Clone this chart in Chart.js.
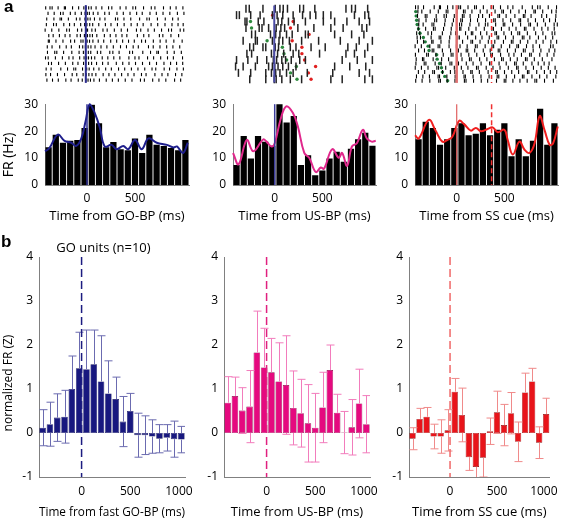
<!DOCTYPE html>
<html>
<head>
<meta charset="utf-8">
<script src="https://cdn.jsdelivr.net/npm/chart.js@4.4.1/dist/chart.umd.min.js"></script>
<style>
  body { margin: 0; background: #fff; }
  #fig { position: relative; width: 563px; height: 520px; overflow: hidden; }
  #fig canvas { position: absolute; }
  .lbl { position: absolute; color: #000; white-space: nowrap; }
  .panel { font: bold 17px "Liberation Sans", Arial, sans-serif; line-height: 17px; }
</style>
</head>
<body>
<div id="fig">
  <canvas id="r1" width="190" height="88" style="left:0;top:0"></canvas>
  <canvas id="r2" width="190" height="88" style="left:190px;top:0"></canvas>
  <canvas id="r3" width="188" height="88" style="left:375px;top:0"></canvas>
  <canvas id="h1" width="190" height="134" style="left:0;top:90px"></canvas>
  <canvas id="h2" width="190" height="134" style="left:190px;top:90px"></canvas>
  <canvas id="h3" width="188" height="134" style="left:375px;top:90px"></canvas>
  <canvas id="b1" width="206" height="285" style="left:0;top:235px"></canvas>
  <canvas id="b2" width="200" height="285" style="left:190px;top:235px"></canvas>
  <canvas id="b3" width="190" height="285" style="left:375px;top:235px"></canvas>
  <div class="lbl panel" style="left:4px;top:-2px">a</div>
  <div class="lbl panel" style="left:1px;top:233px">b</div>
  <div class="lbl" style="left:0;top:238px;width:207px;text-align:center;font:13px 'Open Sans', sans-serif">GO units (n=10)</div>
</div>
<script>
// 75 ms bins
const binCenters = [-400, -325, -250, -175, -100, -25, 50, 125, 200, 275, 350, 425, 500, 575, 650, 725, 800, 875, 950, 1025];
const aTicks = [0, 500];
const bTicks = [0, 500, 1000];

// panel a: firing rate histograms (Hz)
const goRate = [14, 18.7, 15.7, 16.4, 16.7, 21.2, 29.8, 22.9, 14, 16, 13.3, 12.9, 17.3, 11.9, 18.7, 14.9, 14.5, 13.7, 12.9, 16.7];
const usRate = [7.4, 18.2, 9.8, 18.2, 16.1, 14.6, 30.4, 23.2, 25.6, 7.4, 11, 3.6, 5.4, 9.8, 12.3, 8.6, 13.5, 17, 19.4, 14.6];
const ssRate = [17, 23.5, 21.2, 14.9, 17, 21.2, 22.9, 18.5, 19, 22.9, 18.5, 20.5, 22.9, 10.7, 17, 10.7, 16.4, 28.3, 14.9, 22.9];

// smoothed spike density
const goSmoothT = [-437, -392, -304, -234, -164, -112, -59, -14, 28, 80, 133, 185, 255, 308, 378, 430, 500, 570, 640, 727, 832, 902, 937, 1000, 1050];
const goSmoothY = [12.5, 13.7, 18.7, 16.4, 15.7, 14.5, 17.3, 23.8, 30, 26.8, 21.4, 14.3, 14.9, 13.3, 14.5, 13.3, 16.7, 13.3, 17.3, 15.7, 14.9, 13.9, 14.3, 11.9, 15.7];
const usSmoothT = [-437, -379, -293, -224, -121, -86, -34, 0, 62, 121, 190, 241, 310, 362, 431, 483, 517, 603, 672, 707, 759, 810, 862, 924, 966, 1017, 1060];
const usSmoothY = [11.9, 7.7, 16.7, 12.5, 16.9, 16.1, 14.3, 15.5, 24.4, 29.2, 26.8, 22, 11.9, 10.1, 4.8, 6.5, 6, 13.3, 10.1, 11.9, 7.1, 14.3, 15.5, 20.5, 17.3, 16.1, 16.4];
const ssSmoothT = [-437, -398, -292, -222, -151, -99, -46, 25, 77, 148, 201, 254, 324, 377, 430, 500, 535, 588, 658, 711, 764, 817, 870, 923, 975, 1011, 1060];
const ssSmoothY = [18.5, 17.3, 24.2, 20.2, 16.1, 16.7, 17.9, 23.8, 22.6, 20.2, 21.2, 20, 20.8, 21.4, 19.6, 20.5, 16.7, 11.3, 16.1, 13.1, 11.9, 15.5, 25.6, 20.2, 14.9, 15.5, 21.7];

// panel b: normalized FR (Z) with error
const goZ = [0.12, 0.2, 0.35, 0.37, 1.0, 1.47, 1.45, 1.56, 1.17, 0.9, 0.77, 0.26, 0.5, -0.05, -0.05, -0.08, -0.13, -0.11, -0.14, -0.15];
const goErr = [0.41, 0.5, 0.54, 0.6, 0.75, 0.82, 0.89, 0.78, 1.04, 0.74, 0.5, 0.57, 0.4, 0.5, 0.44, 0.38, 0.32, 0.3, 0.41, 0.3];
const usZ = [0.69, 0.84, 0.51, 0.6, 1.83, 1.49, 1.38, 1.17, 1.09, 0.57, 0.45, 0.22, 0.12, 0.58, 1.43, 0.46, 0.01, 0.13, 0.67, 0.2];
const usErr = [0.59, 0.43, 0.52, 0.82, 0.94, 0.89, 0.77, 0.88, 1.12, 0.84, 0.77, 0.88, 0.78, 0.8, 0.57, 0.42, 0.48, 0.63, 0.78, 0.65];
const ssZ = [-0.13, 0.32, 0.37, -0.08, -0.08, 0.06, 0.94, 0.41, -0.55, -0.77, -0.56, 0.04, 0.47, 0.18, 0.45, -0.2, 0.92, 1.17, -0.22, 0.43];
const ssErr = [0.25, 0.24, 0.21, 0.28, 0.38, 0.47, 0.3, 0.61, 0.3, 0.32, 0.44, 0.3, 0.48, 0.47, 0.47, 0.45, 0.44, 0.3, 0.36, 0.36];

// rasters: spike times (ms) per trial
const goTrials = [
  [-430, -384, -361, -297, -230, -218, -142, -77, -21, 3, 31, 58, 110, 172, 244, 279, 368, 431, 505, 534, 619, 702, 741, 833, 906, 968, 1041],
  [-405, -339, -271, -243, -166, -114, -48, -8, 16, 38, 80, 130, 203, 251, 334, 402, 474, 545, 605, 688, 756, 828, 901, 982, 1052],
  [-419, -342, -276, -260, -187, -101, -63, -9, 22, 47, 93, 151, 205, 318, 342, 409, 482, 577, 655, 681, 768, 852, 931, 990],
  [-423, -346, -316, -236, -174, -123, -55, -13, 12, 42, 74, 139, 210, 270, 339, 411, 486, 552, 615, 700, 771, 849, 924, 989, 1044],
  [-436, -365, -289, -205, -176, -89, -44, 6, 19, 65, 102, 184, 229, 306, 380, 447, 543, 589, 667, 735, 812, 887, 919, 1012, 1050],
  [-397, -350, -283, -222, -170, -94, -58, -15, 18, 44, 71, 118, 199, 262, 323, 388, 440, 553, 621, 676, 789, 826, 913, 995],
  [-402, -391, -320, -245, -163, -120, -52, -30, 14, 40, 76, 133, 192, 267, 331, 395, 458, 520, 598, 640, 724, 797, 861, 944, 1033],
  [-413, -362, -280, -210, -155, -68, -33, -5, 25, 55, 99, 163, 226, 295, 372, 436, 508, 563, 672, 723, 795, 867, 934, 1007],
  [-411, -333, -311, -238, -150, -72, -26, -4, 27, 53, 124, 160, 257, 290, 357, 470, 501, 611, 694, 762, 779, 873, 948, 1024],
  [-432, -404, -326, -251, -181, -137, -66, -19, 9, 29, 61, 96, 176, 236, 300, 365, 462, 527, 570, 662, 727, 803, 876, 939, 1037],
  [-400, -368, -292, -219, -140, -84, -24, 0, 30, 62, 115, 180, 239, 327, 396, 463, 533, 608, 684, 758, 838, 909, 973, 1039],
  [-425, -372, -268, -196, -129, -108, -35, 10, 36, 85, 141, 213, 274, 351, 417, 489, 559, 632, 710, 750, 840, 898, 977, 1046],
  [-428, -378, -304, -228, -146, -97, -29, 4, 33, 67, 108, 186, 248, 312, 384, 452, 517, 597, 646, 741, 817, 880, 962, 1030],
  [-417, -357, -295, -214, -158, -81, -38, 1, 24, 50, 87, 146, 219, 285, 349, 423, 495, 586, 628, 717, 784, 858, 952, 1017]
];
const usTrials = [
  [-300, -265, -120, 10, 60, 95, 140, 270, 310, 430, 760, 820, 860, 990],
  [-400, -370, -250, -150, -20, 30, 90, 200, 300, 380, 440, 520, 600, 850, 960, 1000],
  [-310, -290, -170, -110, 40, 80, 150, 210, 330, 520, 640, 770, 900, 1010],
  [-300, -160, -130, -60, 20, 70, 110, 250, 420, 600, 730, 930, 980],
  [-240, -200, -40, 15, 60, 130, 190, 330, 360, 640, 820, 950],
  [-330, -200, -180, -20, 50, 90, 160, 290, 470, 700, 900, 1040],
  [-260, -220, -120, -90, 10, 45, 170, 230, 390, 540, 780, 870, 990],
  [-290, -240, -30, 0, 35, 100, 200, 260, 480, 760, 850, 960],
  [-400, -280, -180, -80, -10, 25, 80, 120, 180, 270, 330, 720, 880, 1040],
  [-410, -330, -200, -60, -20, 5, 40, 90, 150, 230, 640, 800, 970],
  [-380, -250, -90, -30, 15, 60, 130, 200, 350, 620, 900, 1010],
  [-260, -90, 0, 20, 80, 170, 290, 600, 720, 960, 1040]
];
const usGreenRow = [3, 4, 6, 7, 8, 9, 10, 11, 12];
const usGreenT = [-252, -241, -76, 86, 103, 131, 234, 172, 241];
const usRedRow = [2, 3, 4, 5, 6, 7, 8, 9, 10, 11, 12];
const usRedT = [-17, 200, 172, 369, 190, 293, 293, 321, 438, 362, 390];

const ssTrials = [
  [-432, -405, -348, -236, -181, -170, -96, -40, 22, 41, 119, 188, 207, 280, 362, 385, 460, 537, 590, 688, 794, 850, 876, 961, 1048],
  [-407, -366, -278, -193, -110, -92, 4, 71, 88, 160, 247, 319, 403, 474, 491, 566, 654, 722, 811, 826, 903, 997, 1044],
  [-411, -330, -312, -215, -132, -108, -25, 60, 77, 141, 230, 272, 344, 433, 450, 519, 611, 700, 716, 781, 893, 944, 1041],
  [-396, -322, -231, -210, -121, -34, 43, 60, 145, 219, 303, 389, 405, 486, 567, 655, 671, 749, 827, 913, 975, 1037],
  [-398, -352, -259, -240, -126, -47, 30, 52, 139, 233, 301, 327, 409, 489, 505, 587, 671, 758, 775, 847, 931, 1023, 1056],
  [-404, -326, -244, -226, -138, -57, 31, 44, 127, 203, 290, 369, 386, 470, 551, 623, 711, 727, 812, 894, 958, 1024],
  [-420, -388, -301, -264, -150, -61, -12, 8, 93, 154, 169, 251, 316, 402, 418, 496, 575, 642, 661, 742, 829, 905, 1002, 1030],
  [-415, -380, -268, -184, -167, -73, 11, 28, 115, 199, 266, 342, 424, 441, 513, 594, 689, 706, 768, 858, 934, 1008],
  [-412, -347, -262, -248, -165, -79, -2, 62, 150, 167, 245, 332, 400, 491, 574, 591, 668, 746, 834, 907, 989, 1049],
  [-436, -371, -282, -195, -177, -80, -3, 35, 110, 196, 215, 299, 371, 388, 468, 556, 632, 649, 733, 801, 870, 986, 1012],
  [-400, -338, -257, -240, -150, -64, 18, 100, 116, 189, 279, 352, 436, 453, 533, 616, 700, 719, 803, 884, 970, 1030],
  [-433, -315, -297, -218, -141, -58, -39, 46, 127, 211, 292, 358, 375, 461, 548, 601, 680, 766, 783, 872, 950, 1021],
  [-425, -359, -345, -247, -158, -85, 6, 56, 134, 152, 241, 317, 396, 471, 489, 563, 636, 722, 739, 815, 899, 1000],
  [-428, -341, -323, -226, -162, -70, -51, 19, 101, 172, 256, 345, 362, 445, 520, 608, 625, 699, 790, 856, 918, 970],
  [-435, -370, -301, -208, -190, -115, -25, 49, 118, 208, 226, 310, 381, 455, 542, 629, 645, 727, 806, 887, 962, 1033],
  [-402, -336, -251, -233, -148, -66, -19, 66, 148, 163, 238, 330, 410, 427, 502, 578, 650, 743, 758, 840, 921, 983, 1050],
  [-422, -355, -286, -195, -180, -103, -16, 77, 91, 172, 255, 340, 425, 442, 521, 608, 690, 706, 790, 871, 947, 1041],
  [-430, -363, -282, -188, -171, -100, -18, 81, 98, 177, 258, 325, 418, 499, 516, 590, 664, 740, 821, 840, 922, 1015]
];
const ssGreenRow = [2, 3, 4, 5, 6, 7, 8, 9, 10, 11, 12, 13, 14, 15, 16, 17, 18];
const ssGreenT = [-430, -425, -420, -415, -400, -385, -350, -330, -300, -290, -210, -205, -180, -160, -150, -125, -95];
const ssStopT = 366;

const xMin = -437.5, xMax = 1062.5;

Chart.defaults.font.family = '"Open Sans", sans-serif';
Chart.defaults.font.size = 12;
Chart.defaults.color = '#000';
Chart.defaults.animation = false;
Chart.defaults.plugins.legend.display = false;
Chart.defaults.plugins.tooltip.enabled = false;

function vLines(lines) {
  return {
    id: 'vLines',
    afterDatasetsDraw(chart) {
      const { ctx, chartArea: a, scales: { x } } = chart;
      ctx.save();
      lines.forEach(l => {
        const px = x.getPixelForValue(l.x);
        ctx.strokeStyle = l.color;
        ctx.lineWidth = l.width;
        ctx.setLineDash(l.dash || []);
        ctx.beginPath();
        ctx.moveTo(px, a.top);
        ctx.lineTo(px, a.bottom);
        ctx.stroke();
      });
      ctx.restore();
    }
  };
}

// whiskers are drawn only where they stick out of the bar
function errorBars(vals, errs, color) {
  return {
    id: 'errorBars',
    afterDatasetsDraw(chart) {
      const { ctx, chartArea: a, scales: { x, y } } = chart;
      ctx.save();
      ctx.beginPath();
      ctx.rect(a.left, a.top - 2, a.right - a.left, a.bottom - a.top + 2);
      ctx.clip();
      ctx.strokeStyle = color;
      ctx.lineWidth = 1;
      binCenters.forEach((c, i) => {
        const px = Math.round(x.getPixelForValue(c)) + 0.5;
        const hi = vals[i] + errs[i], lo = vals[i] - errs[i];
        const barTop = Math.max(0, vals[i]), barBot = Math.min(0, vals[i]);
        ctx.beginPath();
        if (hi > barTop) {
          ctx.moveTo(px, y.getPixelForValue(barTop)); ctx.lineTo(px, y.getPixelForValue(hi));
          ctx.moveTo(px - 4, y.getPixelForValue(hi)); ctx.lineTo(px + 4, y.getPixelForValue(hi));
        }
        if (lo < barBot) {
          ctx.moveTo(px, y.getPixelForValue(barBot)); ctx.lineTo(px, y.getPixelForValue(lo));
          ctx.moveTo(px - 4, y.getPixelForValue(lo)); ctx.lineTo(px + 4, y.getPixelForValue(lo));
        }
        ctx.stroke();
      });
      ctx.restore();
    }
  };
}

function yLabel(text, x, y, size) {
  return {
    id: 'yLabel',
    afterDraw(chart) {
      const { ctx } = chart;
      ctx.save();
      ctx.translate(x, y);
      ctx.rotate(-Math.PI / 2);
      ctx.font = size + 'px "Open Sans", sans-serif';
      ctx.fillStyle = '#000';
      ctx.textAlign = 'center';
      ctx.textBaseline = 'middle';
      ctx.fillText(text, 0, 0);
      ctx.restore();
    }
  };
}

function spikePoints(trials) {
  return trials.flatMap((row, i) => row.map(t => ({ x: t, y: i + 1 })));
}
function eventPoints(rows, times) {
  return rows.map((r, i) => ({ x: times[i], y: r }));
}

function raster(id, trials, tick, extra, pad, lines) {
  new Chart(id, {
    type: 'scatter',
    data: {
      datasets: [{
        data: spikePoints(trials),
        pointStyle: 'line', pointRotation: 90,
        pointRadius: tick.len, pointBorderWidth: tick.w, pointBorderColor: tick.color
      }].concat(extra.map(e => ({
        data: eventPoints(e.rows, e.times),
        pointStyle: 'circle', pointRadius: 1.7, pointBorderWidth: 0,
        pointBackgroundColor: e.color
      })))
    },
    options: {
      responsive: false,
      clip: false,
      layout: { padding: pad },
      scales: {
        x: { type: 'linear', min: xMin, max: xMax, display: false },
        y: { type: 'linear', min: 0.5, max: trials.length + 0.5, reverse: true, display: false }
      }
    },
    plugins: [vLines(lines)]
  });
}

function axisCommon(tickVals, title, height, pad) {
  return {
    type: 'linear', min: xMin, max: xMax, offset: false,
    grid: { display: false, drawTicks: false },
    border: { color: '#808080' },
    ticks: { padding: pad, maxRotation: 0, autoSkip: false, callback: v => String(v) },
    afterBuildTicks: s => { s.ticks = tickVals.map(v => ({ value: v })); },
    afterFit: s => { s.height = height; },
    title: { display: true, text: title, padding: 0, font: { size: 13 } }
  };
}

function hist(id, rates, sT, sY, color, title, yw, right, lines, extraPlugins) {
  new Chart(id, {
    type: 'bar',
    data: {
      datasets: [
        {
          type: 'line', order: 0, clip: false,
          data: sT.map((t, i) => ({ x: t, y: sY[i] })),
          borderColor: color, borderWidth: 2, pointRadius: 0, tension: 0.4
        },
        {
          order: 1,
          data: binCenters.map((c, i) => ({ x: c, y: rates[i] })),
          backgroundColor: '#000', barPercentage: 0.87, categoryPercentage: 1
        }
      ]
    },
    options: {
      responsive: false,
      layout: { padding: { top: 11, right: right, left: 0, bottom: 0 } },
      scales: {
        x: axisCommon(aTicks, title, 39, 6),
        y: {
          min: 0, max: 30,
          grid: { display: false, drawTicks: false },
          border: { color: '#808080' },
          ticks: { stepSize: 10, padding: 7 },
          afterFit: s => { s.width = yw; }
        }
      }
    },
    plugins: [vLines(lines)].concat(extraPlugins)
  });
}

function zChart(id, vals, errs, fill, edge, errColor, lineColor, title, yw, right, extraPlugins) {
  new Chart(id, {
    type: 'bar',
    data: {
      datasets: [{
        data: binCenters.map((c, i) => ({ x: c, y: vals[i] })),
        backgroundColor: fill, borderColor: edge, borderWidth: 0.6, borderSkipped: false,
        barPercentage: 0.9, categoryPercentage: 1
      }]
    },
    options: {
      responsive: false,
      layout: { padding: { top: 22, right: right, left: 0, bottom: 0 } },
      scales: {
        x: axisCommon(bTicks, title, 43, 7),
        y: {
          min: -1, max: 4,
          grid: { display: false, drawTicks: false },
          border: { color: '#808080' },
          ticks: { stepSize: 1, padding: 6 },
          afterFit: s => { s.width = yw; }
        }
      }
    },
    plugins: [errorBars(vals, errs, errColor),
              vLines([{ x: 0, color: lineColor, width: 1.5, dash: [8, 4] }])].concat(extraPlugins)
  });
}

// panel a rasters
raster('r1', goTrials, { len: 1.6, w: 1.1, color: '#000' }, [],
  { left: 45, right: 1, top: 2, bottom: 4 },
  [{ x: 0, color: '#2b2b8f', width: 2 }]);
raster('r2', usTrials, { len: 4, w: 1.5, color: '#222' },
  [{ rows: usGreenRow, times: usGreenT, color: '#2e8b3e' },
   { rows: usRedRow, times: usRedT, color: '#e02020' }],
  { left: 43, right: 4, top: 3, bottom: 3 },
  [{ x: 0, color: '#4b4ba5', width: 2 }]);
raster('r3', ssTrials, { len: 2, w: 1.1, color: '#000' },
  [{ rows: ssGreenRow, times: ssGreenT, color: '#1f7a3a' }],
  { left: 40, right: 5, top: 3, bottom: 3 },
  [{ x: 0, color: '#e07070', width: 2.5 },
   { x: ssStopT, color: '#f03030', width: 1.5, dash: [4, 3] }]);

// panel a histograms
hist('h1', goRate, goSmoothT, goSmoothY, '#1e1e8c', 'Time from GO-BP (ms)', 45, 1,
  [{ x: 0, color: '#2b2b8f', width: 1.5 }], [yLabel('FR (Hz)', 9, 65, 14)]);
hist('h2', usRate, usSmoothT, usSmoothY, '#e0288c', 'Time from US-BP (ms)', 43, 4,
  [{ x: 0, color: '#3c3c9c', width: 1.5 }], []);
hist('h3', ssRate, ssSmoothT, ssSmoothY, '#f01e1e', 'Time from SS cue (ms)', 40, 5,
  [{ x: 0, color: '#e06060', width: 1.2 },
   { x: ssStopT, color: '#f03030', width: 1.5, dash: [5, 3] }], []);

// panel b
zChart('b1', goZ, goErr, '#18187f', '#10105a', '#6b6bb0', '#1c1c80', 'Time from fast GO-BP (ms)', 39, 21,
  [yLabel('normalized FR (Z)', 9, 148, 12)]);
zChart('b2', usZ, usErr, '#e5097f', '#8a0848', '#f27cbc', '#e0207f', 'Time from US-BP (ms)', 34, 20, []);
zChart('b3', ssZ, ssErr, '#e8141a', '#8c0c0c', '#f08a8a', '#f06868', 'Time from SS cue (ms)', 34, 10, []);
</script>
</body>
</html>
